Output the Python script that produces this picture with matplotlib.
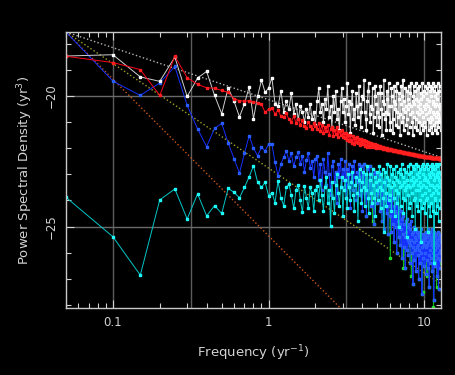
import matplotlib
matplotlib.use("Agg")
import matplotlib.pyplot as plt
import matplotlib.ticker as mticker
import numpy as np

# harmonics of 0.05 yr^-1 (20-yr record), log10 PSD per series
freq = 0.05 * np.arange(1, 257)

white_psd = [
    -18.47, -18.42, -19.27, -19.44, -18.51, -20.02, -19.31, -19.06, -19.98, -20.68,
    -19.69, -20.2, -20.8, -20.3, -19.66, -20.87, -20.0, -19.4, -19.86, -19.7,
    -19.3, -20.3, -20.4, -19.8, -20.6, -20.2, -20.5, -19.9, -20.7, -20.3,
    -20.9, -20.4, -20.6, -21.0, -20.5, -20.8, -20.3, -20.9, -20.6, -21.1,
    -20.2, -19.7, -20.6, -20.3, -21.0, -20.1, -20.5, -19.6, -20.8, -20.4,
    -21.2, -20.0, -20.6, -19.8, -20.9, -20.5, -21.3, -20.2, -19.7, -20.6,
    -20.1, -21.0, -20.4, -19.5, -20.7, -20.2, -21.4, -20.3, -19.8, -20.9,
    -20.5, -21.1, -19.9, -20.4, -20.8, -19.6, -20.3, -21.2, -20.6, -20.0,
    -20.1, -19.4, -20.6, -20.9, -21.3, -20.2, -19.8, -19.5, -20.7, -21.0,
    -20.4, -20.5, -19.7, -21.4, -20.8, -20.0, -19.6, -20.3, -21.1, -20.6,
    -19.9, -20.8, -21.2, -19.6, -19.9, -20.5, -21.5, -20.7, -20.2, -19.4,
    -20.3, -20.9, -20.6, -21.3, -19.8, -20.1, -20.7, -19.5, -20.4, -21.0,
    -21.3, -20.4, -19.7, -20.0, -20.9, -21.4, -20.2, -19.6, -20.5, -20.3,
    -21.1, -19.8, -19.5, -20.6, -21.2, -20.8, -20.1, -19.9, -20.7, -21.5,
    -20.3, -19.6, -20.0, -21.0, -20.5, -19.4, -20.8, -21.3, -20.2, -20.6,
    -19.7, -20.4, -21.1, -20.9, -19.8, -20.1, -21.4, -20.5, -19.6, -20.3,
    -20.7, -21.2, -19.9, -19.5, -20.4, -21.0, -20.6, -20.2, -21.5, -20.0,
    -19.6, -20.8, -20.3, -19.8, -21.2, -20.9, -20.1, -19.5, -20.6, -21.3,
    -20.4, -19.7, -20.2, -21.0, -20.7, -19.6, -20.3, -21.4, -20.5, -19.9,
    -20.1, -21.1, -20.6, -19.5, -20.8, -21.3, -20.0, -19.8, -20.4, -21.0,
    -19.6, -20.5, -21.2, -20.3, -19.9, -20.7, -21.5, -20.1, -19.7, -20.4,
    -20.9, -19.5, -20.6, -21.3, -20.2, -19.8, -21.0, -20.5, -19.6, -20.8,
    -21.2, -20.0, -19.7, -20.9, -21.4, -20.3, -19.5, -20.6, -20.2, -21.1,
    -20.7, -19.8, -20.4, -21.3, -20.0, -19.6, -20.8, -21.0, -20.3, -19.9,
    -20.6, -21.4, -20.1, -19.5, -20.7, -21.2, -20.4, -19.8, -20.9, -21.0,
    -19.6, -20.3, -20.8, -20.5, -21.3, -20.9,
]

red_psd = [
    -18.48, -18.72, -18.99, -19.98, -18.48, -19.3, -19.55, -19.69, -19.7, -19.79,
    -19.86, -20.1, -20.18, -20.2, -20.18, -20.22, -20.25, -20.31, -20.63, -20.5,
    -20.46, -20.69, -20.55, -20.78, -20.82, -20.66, -20.9, -20.98, -20.78, -21.02,
    -20.88, -21.1, -20.92, -21.16, -21.22, -20.98, -21.14, -21.26, -21.02, -21.16,
    -21.25, -21.02, -21.35, -21.1, -21.42, -21.2, -21.36, -21.1, -21.48, -21.28,
    -21.18, -21.52, -21.3, -21.44, -21.2, -21.56, -21.34, -21.5, -21.3, -21.58,
    -21.4, -21.62, -21.42, -21.7, -21.48, -21.74, -21.5, -21.68, -21.8, -21.55,
    -21.84, -21.62, -21.76, -21.58, -21.82, -21.66, -21.86, -21.64, -21.8, -21.7,
    -21.84, -21.7, -21.9, -21.74, -21.86, -21.94, -21.76, -21.9, -21.8, -21.96,
    -21.82, -21.92, -21.84, -21.97, -21.86, -21.94, -21.85, -21.99, -21.88, -21.95,
    -21.95, -21.9, -21.98, -21.92, -22.0, -21.94, -21.99, -22.02, -21.96, -22.0,
    -22.04, -21.98, -22.03, -22.0, -22.06, -22.01, -22.05, -22.03, -22.07, -22.03,
    -22.06, -22.04, -22.08, -22.05, -22.1, -22.06, -22.09, -22.07, -22.11, -22.08,
    -22.12, -22.09, -22.11, -22.1, -22.13, -22.1, -22.14, -22.11, -22.15, -22.12,
    -22.15, -22.13, -22.16, -22.14, -22.17, -22.15, -22.18, -22.16, -22.18, -22.17,
    -22.19, -22.17, -22.2, -22.18, -22.2, -22.19, -22.21, -22.19, -22.22, -22.2,
    -22.22, -22.21, -22.23, -22.21, -22.23, -22.22, -22.24, -22.23, -22.25, -22.23,
    -22.25, -22.24, -22.26, -22.25, -22.26, -22.25, -22.27, -22.26, -22.27, -22.26,
    -22.28, -22.27, -22.28, -22.27, -22.29, -22.28, -22.29, -22.28, -22.3, -22.29,
    -22.3, -22.29, -22.31, -22.3, -22.31, -22.3, -22.32, -22.31, -22.32, -22.31,
    -22.32, -22.32, -22.33, -22.32, -22.33, -22.33, -22.34, -22.33, -22.34, -22.33,
    -22.34, -22.34, -22.35, -22.34, -22.35, -22.34, -22.35, -22.35, -22.36, -22.35,
    -22.36, -22.35, -22.36, -22.36, -22.37, -22.36, -22.37, -22.36, -22.37, -22.37,
    -22.38, -22.37, -22.38, -22.37, -22.38, -22.38, -22.38, -22.38, -22.39, -22.38,
    -22.39, -22.38, -22.39, -22.39, -22.39, -22.39, -22.4, -22.39, -22.4, -22.39,
    -22.4, -22.4, -22.4, -22.4, -22.41, -22.4,
]

blue_psd = [
    -17.55, -19.43, -19.98, -19.5, -18.87, -20.36, -21.26, -21.94, -21.24, -21.05,
    -21.8, -22.4, -22.95, -22.2, -21.52, -22.0, -22.29, -21.97, -22.1, -21.84,
    -21.84, -22.54, -23.05, -22.6, -22.35, -22.1, -22.48, -22.2, -22.7, -22.35,
    -22.15, -22.6, -22.3, -22.9, -22.45, -22.2, -22.75, -22.5, -23.1, -22.4,
    -22.3, -23.2, -22.6, -23.6, -22.4, -22.9, -23.4, -22.2, -23.0, -23.8,
    -22.7, -22.5, -23.3, -22.9, -24.1, -22.6, -23.1, -22.4, -23.5, -22.8,
    -23.2, -22.5, -23.9, -22.8, -23.4, -22.6, -24.3, -23.0, -22.7, -23.6,
    -22.5, -23.1, -24.0, -22.9, -23.3, -22.6, -23.8, -23.1, -22.7, -24.4,
    -23.0, -22.6, -23.7, -23.2, -24.6, -22.8, -23.4, -23.9, -22.7, -23.3,
    -24.2, -23.0, -22.8, -23.6, -24.9, -23.1, -22.9, -23.8, -23.3, -24.1,
    -23.0, -23.7, -22.9, -24.4, -23.5, -23.1, -24.8, -23.6, -23.2, -24.0,
    -25.1, -23.4, -23.9, -23.2, -24.5, -23.7, -25.3, -23.5, -24.2, -23.8,
    -24.6, -23.6, -25.2, -24.0, -23.7, -24.9, -24.2, -25.6, -23.9, -24.4,
    -25.0, -24.1, -26.0, -24.5, -23.8, -24.8, -25.4, -24.3, -24.9, -25.7,
    -24.4, -25.1, -24.7, -26.2, -24.6, -25.3, -24.5, -25.8, -24.9, -25.4,
    -26.6, -24.8, -25.2, -25.9, -24.7, -25.5, -26.1, -25.0, -25.6, -24.9,
    -25.7, -26.4, -25.1, -25.5, -24.8, -26.0, -25.3, -25.8, -27.2, -25.2,
    -25.6, -25.0, -26.3, -25.4, -25.9, -25.1, -26.7, -25.5, -25.2, -25.8,
    -26.1, -25.3, -25.7, -27.0, -25.4, -25.9, -25.2, -26.4, -25.6, -25.1,
    -26.0, -25.5, -27.6, -25.8, -25.3, -26.2, -25.6, -25.4, -26.5, -25.7,
    -25.3, -26.0, -25.5, -26.8, -25.2, -25.8, -25.4, -26.3, -25.7, -25.1,
    -26.6, -25.6, -25.3, -26.1, -27.3, -25.5, -25.9, -25.2, -26.4, -25.7,
    -25.4, -26.2, -25.6, -25.1, -26.7, -25.8, -25.3, -26.0, -25.5, -27.8,
    -25.6, -25.2, -26.3, -25.9, -25.4, -26.5, -25.7, -25.3, -26.1, -25.8,
    -25.5, -26.9, -25.6, -25.2, -26.2, -25.7, -27.4, -25.4, -26.0, -25.5,
    -26.6, -25.3, -25.9, -26.3, -25.6, -25.9,
]

# second estimate, only above 4 yr^-1 (mostly under the blue curve)
green_psd = [
    -23.0, -22.6, -23.7, -23.2, -24.6, -22.8, -23.4, -23.9, -22.7, -23.3,
    -24.2, -23.0, -24.8, -23.6, -24.9, -23.1, -22.9, -23.8, -23.3, -24.1,
    -23.0, -23.7, -22.9, -24.4, -23.5, -23.1, -24.8, -23.6, -23.2, -24.0,
    -25.1, -23.4, -23.9, -23.2, -24.5, -23.7, -25.3, -23.5, -24.2, -23.8,
    -26.2, -23.6, -25.2, -24.0, -23.7, -24.9, -24.2, -25.6, -23.9, -24.4,
    -25.0, -24.1, -26.0, -24.5, -23.8, -24.8, -25.4, -24.3, -24.9, -25.7,
    -24.4, -25.1, -24.7, -26.2, -24.6, -25.3, -26.6, -25.8, -24.9, -25.4,
    -26.6, -24.8, -25.2, -25.9, -24.7, -25.5, -26.1, -25.0, -25.6, -24.9,
    -25.7, -26.4, -25.1, -25.5, -26.9, -26.0, -25.3, -25.8, -27.2, -25.2,
    -25.6, -25.0, -26.3, -25.4, -25.9, -25.1, -26.7, -25.5, -25.2, -25.7,
    -26.1, -25.3, -25.7, -27.0, -25.4, -25.9, -25.2, -26.4, -25.6, -25.1,
    -26.0, -25.5, -27.6, -25.8, -27.5, -26.2, -25.6, -25.4, -26.5, -25.7,
    -25.3, -26.0, -25.5, -26.8, -25.2, -25.8, -25.4, -26.9, -25.7, -25.1,
    -26.6, -25.6, -25.3, -26.1, -27.3, -25.5, -25.9, -25.2, -26.4, -25.7,
    -25.4, -26.2, -25.6, -25.1, -26.7, -25.8, -25.3, -26.0, -28.1, -27.8,
    -25.6, -25.2, -26.3, -25.9, -25.4, -26.5, -25.7, -25.3, -26.1, -27.3,
    -25.5, -26.9, -25.6, -25.2, -26.2, -25.7, -27.4, -25.4, -26.0, -25.5,
    -26.6, -25.3, -25.9, -26.4, -25.6, -25.9,
]

cyan_psd = [
    -23.88, -25.39, -26.86, -23.98, -23.56, -24.71, -23.75, -24.59, -24.2, -24.5,
    -23.54, -23.69, -23.9, -23.5, -23.1, -22.67, -23.3, -23.5, -23.31, -23.82,
    -23.7, -24.08, -23.25, -23.9, -24.2, -23.5, -23.37, -23.8, -24.3, -23.6,
    -23.4, -24.0, -24.46, -23.45, -23.9, -24.3, -23.5, -23.7, -24.4, -23.6,
    -23.44, -24.0, -23.2, -23.8, -24.4, -23.5, -23.1, -24.1, -23.6, -24.97,
    -23.3, -23.9, -24.5, -23.4, -23.0, -23.7, -24.2, -23.5, -23.1, -24.6,
    -23.6, -23.2, -23.9, -24.3, -23.0, -23.5, -24.0, -23.3, -22.9, -23.8,
    -24.4, -23.4, -23.1, -23.7, -24.8, -23.2, -22.8, -23.6, -24.1, -23.3,
    -22.9, -23.5, -24.2, -23.0, -23.6, -22.7, -23.9, -24.5, -23.2, -23.0,
    -23.7, -24.1, -22.8, -23.4, -23.9, -23.1, -24.6, -23.3, -22.9, -23.6,
    -24.0, -23.2, -22.7, -23.5, -24.3, -23.0, -23.6, -22.8, -23.9, -25.2,
    -23.3, -22.9, -23.7, -24.2, -23.1, -22.6, -23.4, -24.0, -23.2, -23.8,
    -22.7, -23.5, -24.4, -23.0, -23.3, -22.8, -23.9, -23.4, -24.6, -23.1,
    -22.7, -23.6, -24.1, -23.2, -22.9, -23.7, -25.0, -23.3, -22.8, -23.5,
    -24.2, -23.0, -22.6, -23.4, -23.9, -23.1, -24.5, -23.3, -22.8, -23.6,
    -24.0, -22.9, -23.5, -25.4, -23.2, -22.7, -23.8, -23.4, -24.3, -23.0,
    -22.6, -23.5, -24.1, -23.2, -22.9, -23.7, -24.6, -23.1, -22.7, -23.4,
    -24.0, -23.3, -22.8, -23.9, -25.1, -23.2, -22.6, -23.6, -24.2, -23.0,
    -22.7, -23.4, -24.4, -23.1, -22.9, -23.6, -24.0, -22.8, -23.3, -25.6,
    -23.5, -22.7, -23.8, -24.3, -23.0, -22.6, -23.4, -24.1, -23.2, -22.8,
    -23.7, -24.5, -23.1, -22.7, -23.5, -24.0, -23.2, -22.6, -23.9, -25.2,
    -23.3, -22.8, -23.6, -24.2, -23.0, -22.7, -23.4, -24.6, -23.1, -22.9,
    -23.8, -24.1, -22.8, -23.4, -22.6, -23.7, -24.4, -23.0, -22.7, -23.5,
    -26.4, -23.2, -22.8, -23.9, -24.0, -23.1, -22.6, -23.6, -24.5, -23.0,
    -22.7, -23.4, -24.2, -23.1, -22.9, -23.7, -24.8, -23.2, -22.6, -23.5,
    -24.0, -22.9, -23.3, -24.3, -23.0, -23.4,
]

# power-law guides f^-2, f^-4, f^-6 through the first point
guide_freq = [0.05, 12.8]
guide_f2 = [-17.55, -22.35]
guide_f4 = [-17.55, -27.2]
guide_f6 = [-17.55, -32.0]

grid_freqs = [0.1, 0.3162, 1.0, 3.162, 10.0]
grid_levels = [-25, -20]

fg = "#d2d2d2"
fig = plt.figure(figsize=(4.56, 3.75), dpi=100, facecolor="black")
ax = fig.add_axes([66 / 456, 1 - 308 / 375, 375 / 456, 276 / 375], facecolor="black")
ax.set_xscale("log")
ax.set_xlim(0.05, 12.8)
ax.set_ylim(-28.12, -17.55)

for f in grid_freqs:
    ax.axvline(f, color="#5c5c5c", lw=1, zorder=0)
for lev in grid_levels:
    ax.axhline(lev, color="#6a6a6a", lw=1, zorder=0)

ax.plot(guide_freq, guide_f2, ls=":", color="#b4b4b4", lw=1)
ax.plot(guide_freq, guide_f4, ls=":", color="#a0a028", lw=1)
ax.plot(guide_freq, guide_f6, ls=":", color="#c8561c", lw=1)

mk = dict(marker="s", markersize=1.7, lw=0.7)
ax.plot(freq[80:], green_psd, color="#10c020", mec="#20e030", **mk)
ax.plot(freq, blue_psd, color="#1530ff", mec="#2a60ff", **mk)
ax.plot(freq, cyan_psd, color="#00c8c8", mec="#20ffff", **mk)
ax.plot(freq, white_psd, color="#d0d0d0", mec="white", **mk)
ax.plot(freq, red_psd, color="#ff0018", mec="#ff2020", **mk)

ax.xaxis.set_major_locator(mticker.LogLocator(base=10))
ax.xaxis.set_minor_locator(mticker.LogLocator(base=10, subs=np.arange(2, 10)))
ax.xaxis.set_major_formatter(mticker.FuncFormatter(lambda v, p: f"{v:g}"))
ax.xaxis.set_minor_formatter(mticker.NullFormatter())
ax.yaxis.set_major_locator(mticker.MultipleLocator(5))
ax.yaxis.set_minor_locator(mticker.MultipleLocator(1))

ax.tick_params(which="both", direction="in", top=True, right=True, colors=fg,
               labelsize=8.5, width=0.8)
ax.tick_params(which="major", length=6, pad=6)
ax.tick_params(which="minor", length=3.5)
for lab in ax.get_yticklabels():
    lab.set_rotation(90)
    lab.set_va("center")
for sp in ax.spines.values():
    sp.set_color("#c8c8c8")
    sp.set_linewidth(1)

ax.set_xlabel("Frequency (yr$^{-1}$)", color=fg, fontsize=9.5, labelpad=10)
ax.set_ylabel("Power Spectral Density (yr$^3$)", color=fg, fontsize=9.5, labelpad=7)

fig.savefig("out.png", dpi=100, facecolor="black")
